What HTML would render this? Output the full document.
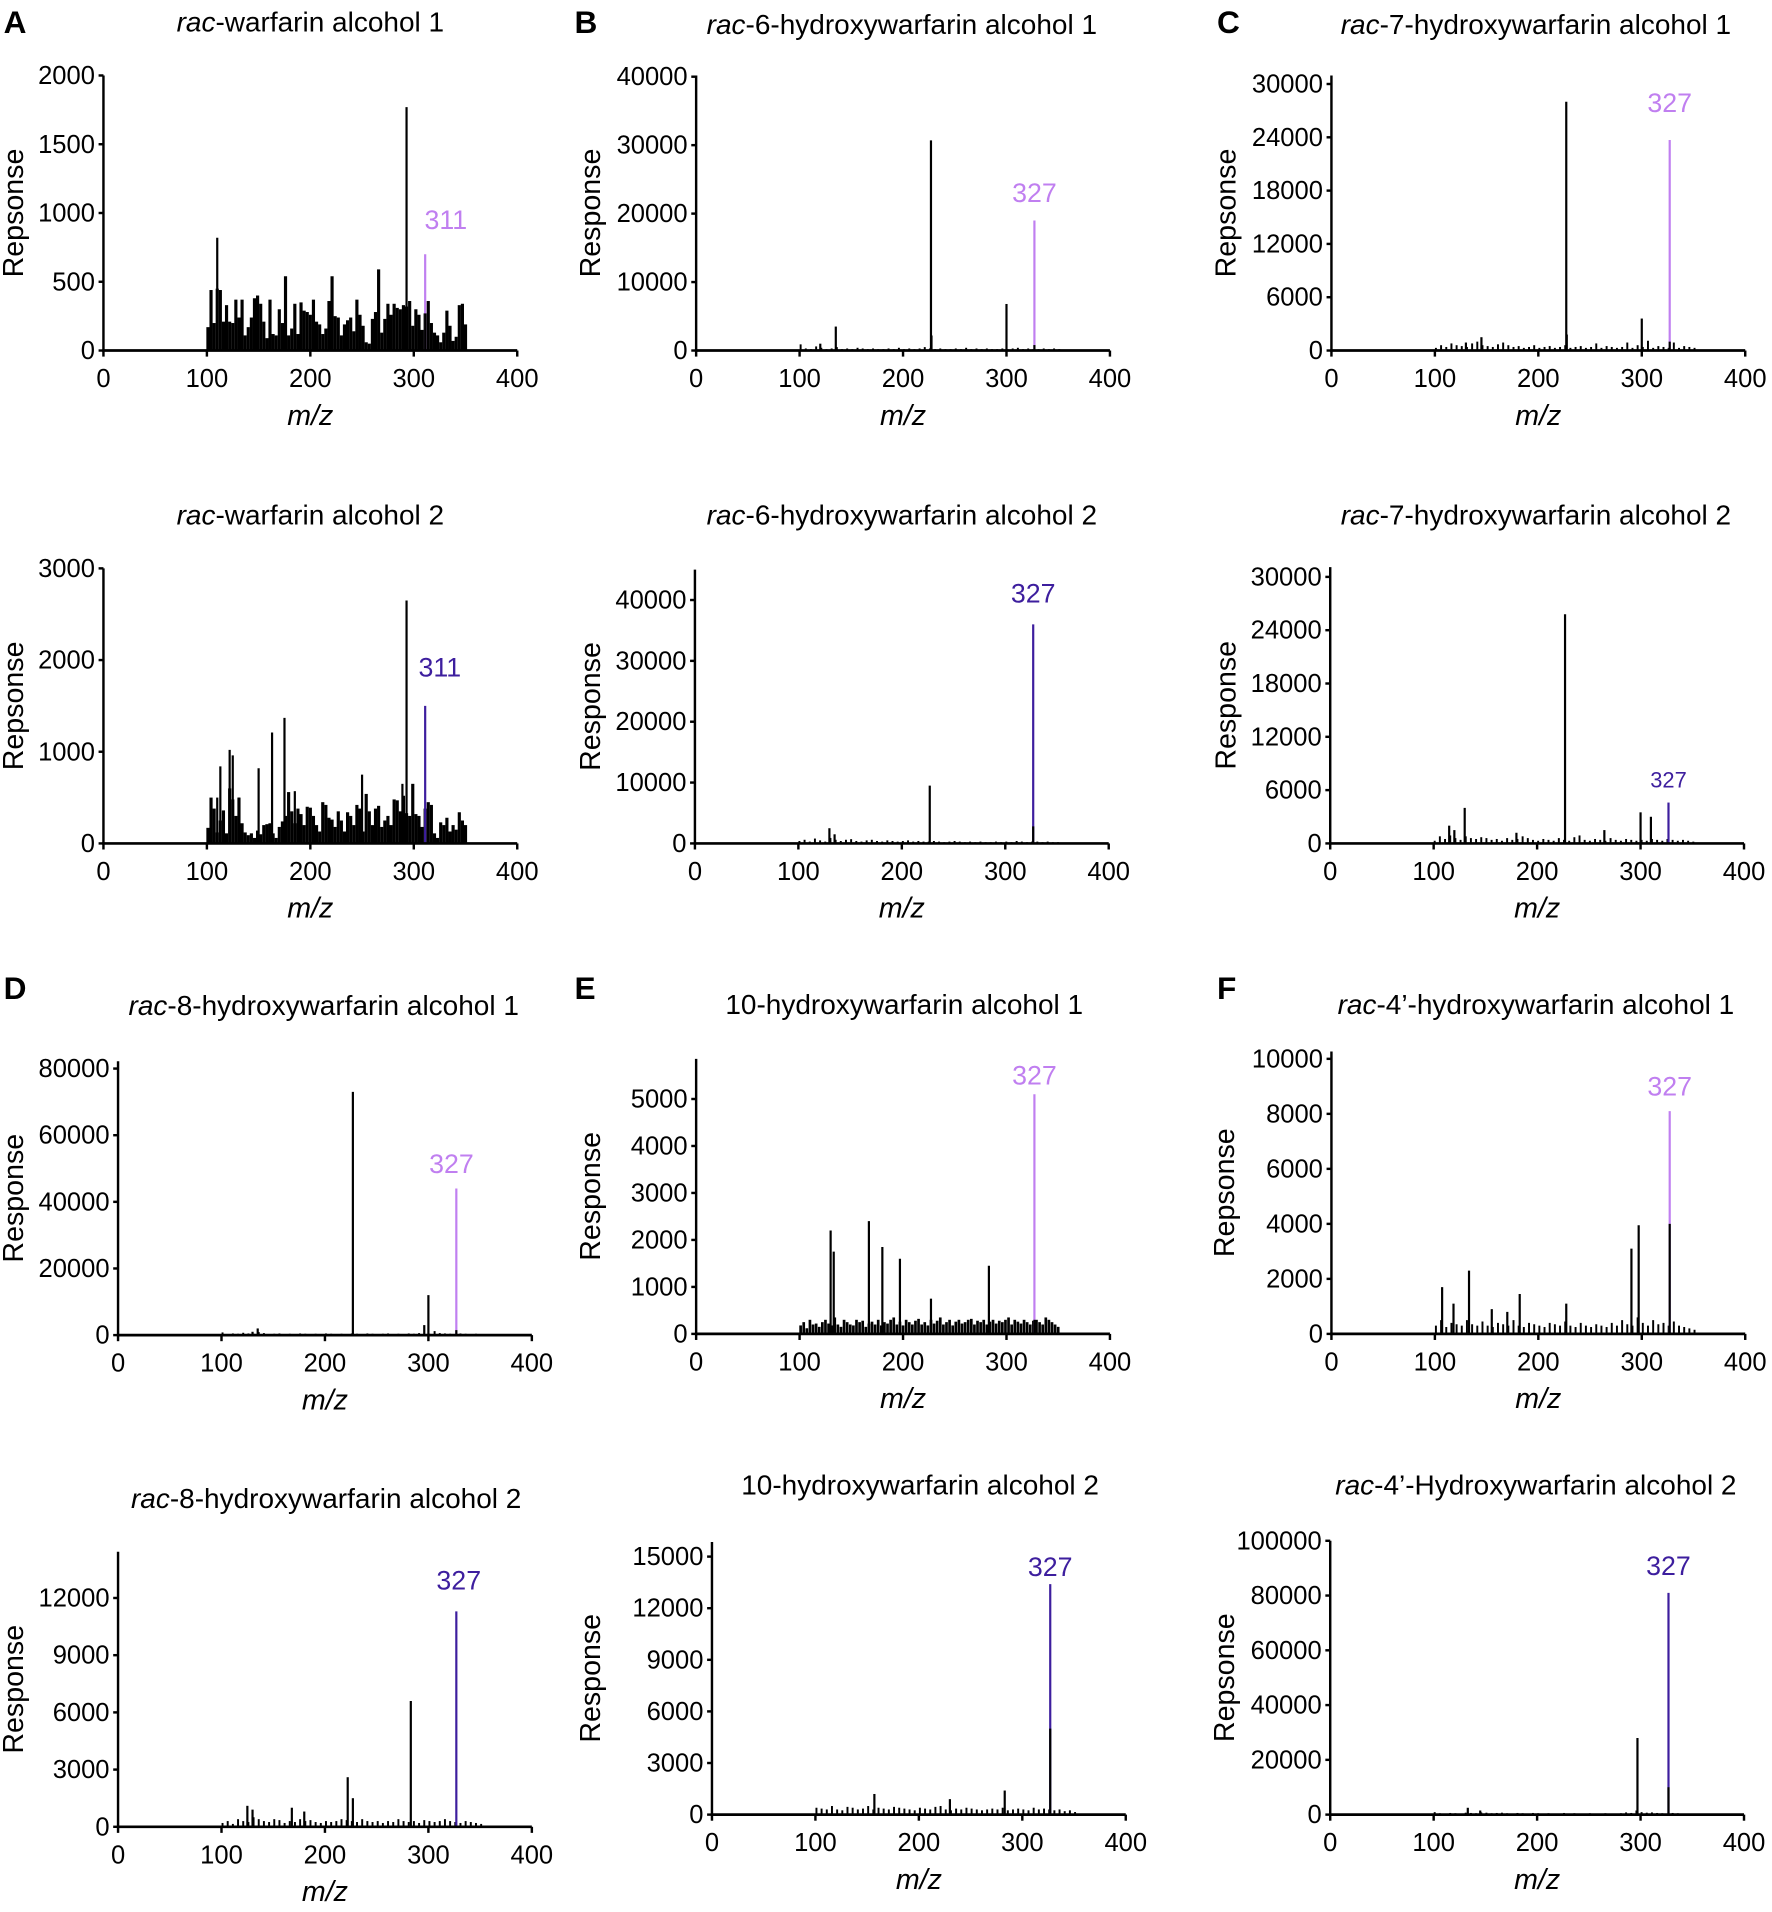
<!DOCTYPE html>
<html><head><meta charset="utf-8"><style>
html,body{margin:0;padding:0;background:#fff;}
svg{display:block;font-family:"Liberation Sans",Arial,sans-serif;}
</style></head><body>
<svg id="fig" width="1772" height="1912" viewBox="0 0 1456 1571" xmlns="http://www.w3.org/2000/svg"></svg>
<script>
// ---- data (m/z, response) ----
const noiseA1 = [170,440,200,450,440,210,330,210,200,370,240,370,110,170,240,380,400,340,210,90,370,120,110,300,200,540,110,160,340,120,350,290,280,260,370,210,190,120,160,360,540,250,240,110,190,220,240,140,370,260,180,60,50,230,280,590,130,230,340,260,340,310,300,330,320,360,180,300,260,150,270,360,200,130,110,60,130,290,180,70,100,330,340,190];
const noiseA2 = [170,500,380,120,250,360,110,600,480,300,500,220,120,90,110,60,140,100,200,210,220,110,60,180,240,300,560,350,220,380,320,200,400,390,300,200,130,450,420,280,260,180,350,250,130,340,300,200,420,380,130,540,350,200,380,410,180,250,300,200,480,470,350,520,330,300,650,320,300,180,380,450,420,110,60,230,200,280,130,200,150,340,250,200];
const noiseE1 = [180,250,120,300,200,220,150,250,300,220,180,350,200,150,300,250,200,180,300,250,280,150,220,260,200,300,180,250,220,300,350,200,260,180,300,250,200,280,320,200,250,180,300,220,280,350,200,250,300,180,260,300,220,250,300,320,200,280,250,300,200,260,300,220,280,250,300,350,200,300,260,220,300,250,200,280,300,250,200,350,300,250,200,150];
const noiseB1 = [900,300,200,600,400,200,300,500,200,300,200,400,300,200,300,200,200,300,200,400,200,300,200,300,500,300,200,300,200,200,300,200,400,200,300,200,300,200,200,300,200,300,400,200,300,200,200,300,200,300,200];
const noiseB2 = [400,600,300,800,500,300,900,600,400,600,700,400,300,500,600,400,300,500,400,300,400,500,300,400,300,300,400,300,200,300,400,300,200,300,200,300,200,200,300,200,300,200,400,300,200,300,300,200,300,200,200];
const noiseC1 = [300,600,400,800,600,500,400,800,1000,600,500,400,700,900,600,400,500,300,400,600,300,400,500,300,400,600,300,400,500,300,400,800,300,500,400,300,400,900,300,600,400,1100,300,500,400,300,900,300,500,400,300];
const noiseC2 = [300,800,500,900,600,400,800,600,500,700,600,400,500,300,600,400,500,800,600,400,300,500,400,300,600,400,300,700,900,400,300,500,400,300,600,400,300,500,400,300,400,300,500,400,300,500,400,300,400,300,200];
const noiseD1 = [800,300,500,400,700,500,400,900,600,300,400,500,300,400,300,500,400,300,400,300,500,400,300,400,300,500,400,300,500,400,300,400,500,300,400,300,500,400,600,300,400,1200,600,500,400,300,500,400,300,400,300];
const noiseD2 = [200,300,150,400,300,250,500,400,300,250,400,350,200,300,250,400,300,350,250,200,300,250,300,400,350,300,250,400,300,250,300,200,300,250,400,300,250,300,200,350,300,250,300,400,300,250,200,300,250,200,150];
const noiseE2 = [400,350,300,500,300,250,450,400,300,350,500,300,400,350,300,450,400,350,300,250,400,350,300,450,500,300,250,350,300,400,350,300,250,300,350,300,400,250,300,350,300,250,400,300,350,300,250,300,200,250,150];
const noiseF1 = [300,500,250,400,350,300,500,350,300,450,300,250,400,350,300,500,300,250,400,350,300,250,400,350,300,450,300,250,400,300,250,350,300,250,400,300,500,350,300,600,400,300,500,350,400,300,450,300,250,200,150];
const noiseF2 = [900,500,400,600,500,400,700,600,500,800,700,500,600,700,500,400,600,500,400,600,500,400,500,400,300,600,400,500,400,300,500,400,300,500,400,300,500,800,600,1500,900,700,800,600,500,400,600,500,400,300,200];

const peaksA1 = [[110,820],[293,1770]];
const peaksA2 = [[110,500],[113,840],[122,1020],[125,960],[131,500],[150,820],[163,1210],[175,1370],[185,570],[250,750],[289,650],[293,2650]];
const peaksB1 = [[120,1000],[135,3500],[227,30700],[227.5,2200],[300,6800]];
const peaksB2 = [[130,2500],[135,1500],[227,9500]];
const peaksC1 = [[130,900],[145,1500],[227,28000],[227.5,1800],[300,3600]];
const peaksC2 = [[115,2000],[120,1500],[130,4000],[180,1200],[227,25800],[265,1500],[300,3500],[310,3000]];
const peaksD1 = [[130,1000],[135,2000],[227,73000],[296,3000],[300,12000]];
const peaksD2 = [[125,1100],[130,900],[168,1000],[180,800],[222,2600],[227,1500],[283,6600]];
const peaksE1 = [[130,2200],[133,1750],[167,2400],[180,1850],[197,1600],[227,750],[283,1450]];
const peaksE2 = [[157,1200],[230,900],[283,1400]];
const peaksF1 = [[107,1700],[118,1100],[133,2300],[155,900],[170,800],[182,1450],[227,1100],[290,3100],[297,3950]];
const peaksF2 = [[133,2500],[145,1500],[297,28000]];

const diagMz = [311,311,327,327,327,327,327,327,327,327,327,327];
const diagVal = [700,1500,19000,36000,23700,4600,44000,11300,5100,13400,8100,81000];
const diagBase = [270,0,800,2800,1000,0,1500,0,300,5000,4000,10000];

const ticksA1=[0,500,1000,1500,2000], ticksA2=[0,1000,2000,3000];
const ticks40k=[0,10000,20000,30000,40000], ticks30k=[0,6000,12000,18000,24000,30000];
const ticksD1=[0,20000,40000,60000,80000], ticksD2=[0,3000,6000,9000,12000];
const ticksE1=[0,1000,2000,3000,4000,5000], ticksE2=[0,3000,6000,9000,12000,15000];
const ticksF1=[0,2000,4000,6000,8000,10000], ticksF2=[0,20000,40000,60000,80000,100000];
const xTicks=[0,100,200,300,400];

const LIGHT="#c07ff0", DARK="#3d1e9e";
const panels = [
 {id:"a1",ax:85,y0:288,tv:2000,ty:62,top:62,ticks:ticksA1,noise:noiseA1,ns:3,nw:2.6,peaks:peaksA1,d:0,col:LIGHT,lx:17,ly:188,title:["rac","-warfarin alcohol 1"],tx:255,tty:26,yl:"Repsonse",ylx:11},
 {id:"a2",ax:85,y0:693,tv:3000,ty:467,top:467,ticks:ticksA2,noise:noiseA2,ns:3,nw:2.6,peaks:peaksA2,d:1,col:DARK,lx:12,ly:556,title:["rac","-warfarin alcohol 2"],tx:255,tty:431,yl:"Repsonse",ylx:11},
 {id:"b1",ax:572,y0:288,tv:40000,ty:63,top:62,ticks:ticks40k,noise:noiseB1,ns:5,nw:1.6,peaks:peaksB1,d:2,col:LIGHT,lx:0,ly:166,title:["rac","-6-hydroxywarfarin alcohol 1"],tx:741,tty:28,yl:"Response",ylx:485},
 {id:"b2",ax:571,y0:693,tv:40000,ty:493,top:468,ticks:ticks40k,noise:noiseB2,ns:5,nw:1.6,peaks:peaksB2,d:3,col:DARK,lx:0,ly:495,title:["rac","-6-hydroxywarfarin alcohol 2"],tx:741,tty:431,yl:"Response",ylx:485},
 {id:"c1",ax:1094,y0:288,tv:30000,ty:69,top:62,ticks:ticks30k,noise:noiseC1,ns:5,nw:1.6,peaks:peaksC1,d:4,col:LIGHT,lx:0,ly:92,title:["rac","-7-hydroxywarfarin alcohol 1"],tx:1262,tty:28,yl:"Repsonse",ylx:1007},
 {id:"c2",ax:1093,y0:693,tv:30000,ty:474,top:466,ticks:ticks30k,noise:noiseC2,ns:5,nw:1.6,peaks:peaksC2,d:5,col:DARK,lx:0,ly:647,small:true,title:["rac","-7-hydroxywarfarin alcohol 2"],tx:1262,tty:431,yl:"Response",ylx:1007},
 {id:"d1",ax:97,y0:1097,tv:80000,ty:878,top:872,ticks:ticksD1,noise:noiseD1,ns:5,nw:1.6,peaks:peaksD1,d:6,col:LIGHT,lx:-4,ly:964,title:["rac","-8-hydroxywarfarin alcohol 1"],tx:266,tty:834,yl:"Response",ylx:11},
 {id:"d2",ax:97,y0:1501,tv:12000,ty:1313,top:1275,ticks:ticksD2,noise:noiseD2,ns:5,nw:1.6,peaks:peaksD2,d:7,col:DARK,lx:2,ly:1306,title:["rac","-8-hydroxywarfarin alcohol 2"],tx:268,tty:1239,yl:"Response",ylx:11},
 {id:"e1",ax:572,y0:1096,tv:5000,ty:903,top:870,ticks:ticksE1,noise:noiseE1,ns:3,nw:2.2,peaks:peaksE1,d:8,col:LIGHT,lx:0,ly:891,title:["","10-hydroxywarfarin alcohol 1"],tx:743,tty:833,yl:"Response",ylx:485},
 {id:"e2",ax:585,y0:1491,tv:15000,ty:1279,top:1267,ticks:ticksE2,noise:noiseE2,ns:5,nw:1.6,peaks:peaksE2,d:9,col:DARK,lx:0,ly:1295,title:["","10-hydroxywarfarin alcohol 2"],tx:756,tty:1228,yl:"Response",ylx:485},
 {id:"f1",ax:1094,y0:1096,tv:10000,ty:870,top:864,ticks:ticksF1,noise:noiseF1,ns:5,nw:1.6,peaks:peaksF1,d:10,col:LIGHT,lx:0,ly:900,title:["rac","-4\u2019-hydroxywarfarin alcohol 1"],tx:1262,tty:833,yl:"Repsonse",ylx:1006},
 {id:"f2",ax:1093,y0:1491,tv:100000,ty:1266,top:1266,ticks:ticksF2,noise:noiseF2,ns:5,nw:1.6,peaks:peaksF2,d:11,col:DARK,lx:0,ly:1294,title:["rac","-4\u2019-Hydroxywarfarin alcohol 2"],tx:1262,tty:1228,yl:"Repsonse",ylx:1006}
];
const letters=[["A",3,27],["B",472,27],["C",1000,27],["D",3,821],["E",472,821],["F",1000,821]];

const NS="http://www.w3.org/2000/svg";
const svg=document.getElementById("fig");
function mk(tag,attrs,parent){const e=document.createElementNS(NS,tag);for(const k in attrs)e.setAttribute(k,attrs[k]);(parent||svg).appendChild(e);return e;}

letters.forEach(L=>{
  const t=mk("text",{x:L[1],y:L[2],"font-size":26,"font-weight":"bold",fill:"#000"});
  t.textContent=L[0];
  
  
});

panels.forEach(p=>{
  const g=mk("g",{});
  
  
  const W=340;
  const xs=v=>p.ax+v/400*W;
  const ys=v=>p.y0-(p.y0-p.ty)*v/p.tv;
  const t=mk("text",{x:p.tx,y:p.tty,"font-size":23,"text-anchor":"middle"},g);
  
  
  if(p.title[0]){const s=mk("tspan",{"font-style":"italic"},t);s.textContent=p.title[0];}
  const s2=mk("tspan",{},t);s2.textContent=p.title[1];
  const cy=(p.y0+p.top)/2;
  const yl=mk("text",{x:0,y:0,"font-size":23.5,"text-anchor":"middle",transform:`translate(${p.ylx+8},${cy}) rotate(-90)`},g);
  yl.textContent=p.yl;
  
  
  const xl=mk("text",{x:p.ax+W/2,y:p.y0+61,"font-size":23.5,"font-style":"italic","text-anchor":"middle"},g);
  xl.textContent="m/z";
  
  
  p.noise.forEach((v,i)=>{
    const mz=101+i*p.ns;
    const l=mk("line",{x1:xs(mz),x2:xs(mz),y1:p.y0,y2:ys(v),stroke:"#000","stroke-width":p.nw},g);
    
    
  });
  p.peaks.forEach(pk=>{
    const l=mk("line",{x1:xs(pk[0]),x2:xs(pk[0]),y1:p.y0,y2:ys(pk[1]),stroke:"#000","stroke-width":1.8},g);
    
    
  });
  const dm=diagMz[p.d], dv=diagVal[p.d], db=diagBase[p.d];
  const dl=mk("line",{x1:xs(dm),x2:xs(dm),y1:p.y0,y2:ys(dv),stroke:p.col,"stroke-width":1.8},g);
  
  
  if(db>0){
    const bl=mk("line",{x1:xs(dm),x2:xs(dm),y1:p.y0,y2:ys(db),stroke:"#000","stroke-width":1.8},g);
    
    
  }
  const dt=mk("text",{x:xs(dm)+p.lx,y:p.ly,"font-size":p.small?18:22,fill:p.col,"text-anchor":"middle"},g);
  dt.textContent=String(dm);
  
  
  const ya=mk("line",{x1:p.ax,x2:p.ax,y1:p.top,y2:p.y0+1,stroke:"#000","stroke-width":2},g);
  
  
  const xa=mk("line",{x1:p.ax-1,x2:p.ax+W,y1:p.y0,y2:p.y0,stroke:"#000","stroke-width":2.2},g);
  
  
  p.ticks.forEach(v=>{
    const y=ys(v);
    mk("line",{x1:p.ax-4,x2:p.ax,y1:y,y2:y,stroke:"#000","stroke-width":2},g);
    const tl=mk("text",{x:p.ax-7,y:y+7,"font-size":21,"text-anchor":"end"},g);
    tl.textContent=String(v);
    
    
  });
  xTicks.forEach(v=>{
    const x=xs(v);
    mk("line",{x1:x,x2:x,y1:p.y0,y2:p.y0+5,stroke:"#000","stroke-width":2},g);
    const tl=mk("text",{x:x,y:p.y0+30,"font-size":21,"text-anchor":"middle"},g);
    tl.textContent=String(v);
    
    
  });
});
</script>
</body></html>
